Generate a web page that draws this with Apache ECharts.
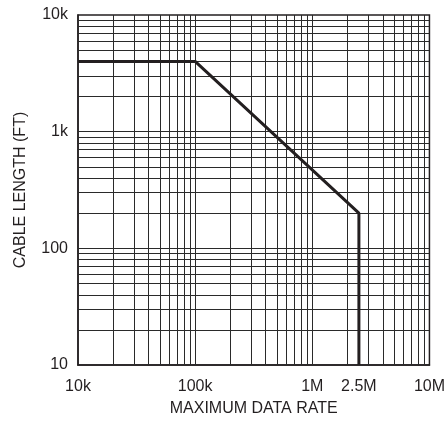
<!DOCTYPE html>
<html>
<head>
<meta charset="utf-8">
<script src="https://cdn.jsdelivr.net/npm/echarts@6/dist/echarts.min.js"></script>
<style>html,body{margin:0;padding:0;background:#fff}#c{width:448px;height:422px}</style>
</head>
<body>
<div id="c"></div>
<script>
// Data
var rateValues = [10000, 100000, 2500000, 2500000];
var lengthValues = [4000, 4000, 200, 10];
var xTickValues = [10000, 100000, 1000000, 2500000, 10000000];
var xTickLabels = ['10k', '100k', '1M', '2.5M', '10M'];
var yTickValues = [10, 100, 1000, 10000];
var yTickLabels = ['10', '100', '1k', '10k'];
var xDecades = [10000, 100000, 1000000];
var yDecades = [10, 100, 1000];
var gridMultipliers = [1, 2, 3, 4, 5, 6, 7, 8, 9];

function lookup(vals, labels, v) {
  for (var i = 0; i < vals.length; i++) {
    if (Math.abs(Math.log10(vals[i]) - Math.log10(v)) < 1e-6) return labels[i];
  }
  return '';
}
var xGrid = [], yGrid = [];
xDecades.forEach(function (d) { gridMultipliers.forEach(function (m) { if (m > 1) xGrid.push({ xAxis: d * m }); }); });
yDecades.forEach(function (d) { gridMultipliers.forEach(function (m) { if (m > 1 || d > 10) yGrid.push({ yAxis: d * m }); }); });
xDecades.slice(1).forEach(function (d) { xGrid.push({ xAxis: d }); });

var font = "'Liberation Sans', Arial, sans-serif";
var chart = echarts.init(document.getElementById('c'));
chart.setOption({
  animation: false,
  grid: { left: 78, top: 15, right: 18, bottom: 56, show: true, borderColor: '#231f20', borderWidth: 1.5, backgroundColor: 'transparent' },
  xAxis: {
    type: 'log', logBase: 10, min: 10000, max: 10000000,
    name: 'MAXIMUM DATA RATE', nameLocation: 'middle', nameGap: 36,
    nameTextStyle: { fontFamily: font, fontSize: 16, color: '#231f20' },
    axisLine: { show: true, lineStyle: { color: '#231f20', width: 1.5 } },
    axisTick: { show: false },
    splitLine: { show: false },
    minorSplitLine: { show: false },
    axisLabel: {
      customValues: xTickValues,
      margin: 14, fontFamily: font, fontSize: 16, color: '#231f20',
      formatter: function (v) { return lookup(xTickValues, xTickLabels, v); }
    }
  },
  yAxis: {
    type: 'log', logBase: 10, min: 10, max: 10000,
    name: 'CABLE LENGTH (FT)', nameLocation: 'middle', nameGap: 49,
    nameTextStyle: { fontFamily: font, fontSize: 16, color: '#231f20' },
    axisLine: { show: true, lineStyle: { color: '#231f20', width: 1.5 } },
    axisTick: { show: false },
    splitLine: { show: false },
    axisLabel: {
      customValues: yTickValues,
      margin: 10, fontFamily: font, fontSize: 16, color: '#231f20',
      formatter: function (v) { return lookup(yTickValues, yTickLabels, v); }
    }
  },
  series: [
    {
      type: 'line', data: [], silent: true, z: 1,
      markLine: {
        silent: true, symbol: 'none', animation: false,
        label: { show: false },
        lineStyle: { type: 'solid', color: '#2a2a2a', width: 1, opacity: 1 },
        emphasis: { disabled: true },
        data: xGrid.concat(yGrid)
      }
    },
    {
      type: 'line', z: 5, symbol: 'none', silent: true,
      lineStyle: { color: '#231f20', width: 3 },
      data: rateValues.map(function (r, i) { return [r, lengthValues[i]]; })
    }
  ]
});
</script>
</body>
</html>
